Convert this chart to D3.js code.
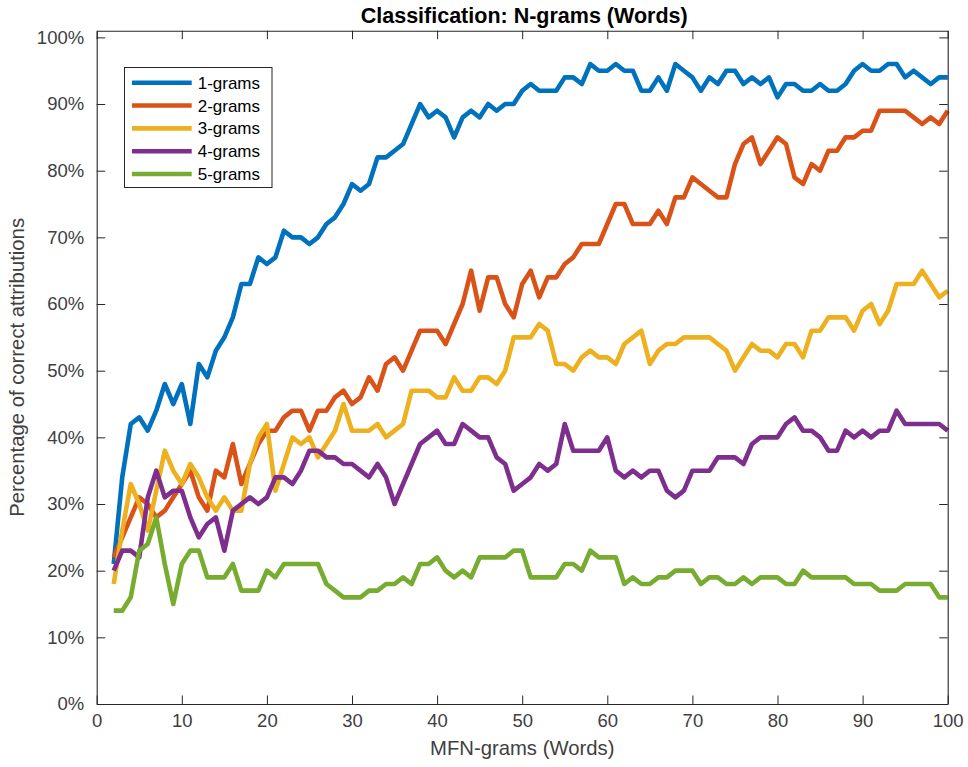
<!DOCTYPE html>
<html>
<head>
<meta charset="utf-8">
<script src="https://cdn.jsdelivr.net/npm/d3@7/dist/d3.min.js"></script>
<style>
  html, body { margin: 0; padding: 0; background: #fff; }
  svg { display: block; font-family: "Liberation Sans", Arial, Helvetica, sans-serif; }
</style>
</head>
<body>
<svg id="chart" width="968" height="767"></svg>
<script>
// Number of most frequent N-grams used (x axis)
const mfn = [
  2, 3, 4, 5, 6, 7, 8, 9, 10, 11,
  12, 13, 14, 15, 16, 17, 18, 19, 20, 21,
  22, 23, 24, 25, 26, 27, 28, 29, 30, 31,
  32, 33, 34, 35, 36, 37, 38, 39, 40, 41,
  42, 43, 44, 45, 46, 47, 48, 49, 50, 51,
  52, 53, 54, 55, 56, 57, 58, 59, 60, 61,
  62, 63, 64, 65, 66, 67, 68, 69, 70, 71,
  72, 73, 74, 75, 76, 77, 78, 79, 80, 81,
  82, 83, 84, 85, 86, 87, 88, 89, 90, 91,
  92, 93, 94, 95, 96, 97, 98, 99, 100
];

// Percentage of correct attributions per N-gram size
const grams1 = [
  21, 34, 42, 43, 41, 44, 48, 45, 48, 42,
  51, 49, 53, 55, 58, 63, 63, 67, 66, 67,
  71, 70, 70, 69, 70, 72, 73, 75, 78, 77,
  78, 82, 82, 83, 84, 87, 90, 88, 89, 88,
  85, 88, 89, 88, 90, 89, 90, 90, 92, 93,
  92, 92, 92, 94, 94, 93, 96, 95, 95, 96,
  95, 95, 92, 92, 94, 92, 96, 95, 94, 92,
  94, 93, 95, 95, 93, 94, 93, 94, 91, 93,
  93, 92, 92, 93, 92, 92, 93, 95, 96, 95,
  95, 96, 96, 94, 95, 94, 93, 94, 94
];
const grams2 = [
  22, 25, 28, 31, 30, 28, 29, 31, 33, 35,
  31, 29, 35, 34, 39, 33, 36, 39, 41, 41,
  43, 44, 44, 41, 44, 44, 46, 47, 45, 46,
  49, 47, 51, 52, 50, 53, 56, 56, 56, 54,
  57, 60, 65, 59, 64, 64, 60, 58, 63, 65,
  61, 64, 64, 66, 67, 69, 69, 69, 72, 75,
  75, 72, 72, 72, 74, 72, 76, 76, 79, 78,
  77, 76, 76, 81, 84, 85, 81, 83, 85, 84,
  79, 78, 81, 80, 83, 83, 85, 85, 86, 86,
  89, 89, 89, 89, 88, 87, 88, 87, 89
];
const grams3 = [
  18, 26, 33, 30, 26, 32, 38, 35, 33, 36,
  34, 31, 29, 31, 29, 29, 36, 40, 42, 32,
  36, 40, 39, 40, 37, 39, 41, 45, 41, 41,
  41, 42, 40, 41, 42, 47, 47, 47, 46, 46,
  49, 47, 47, 49, 49, 48, 50, 55, 55, 55,
  57, 56, 51, 51, 50, 52, 53, 52, 52, 51,
  54, 55, 56, 51, 53, 54, 54, 55, 55, 55,
  55, 54, 53, 50, 52, 54, 53, 53, 52, 54,
  54, 52, 56, 56, 58, 58, 58, 56, 59, 60,
  57, 59, 63, 63, 63, 65, 63, 61, 62
];
const grams4 = [
  20, 23, 23, 22, 31, 35, 31, 32, 32, 28,
  25, 27, 28, 23, 29, 30, 31, 30, 31, 34,
  34, 33, 35, 38, 38, 37, 37, 36, 36, 35,
  34, 36, 34, 30, 33, 36, 39, 40, 41, 39,
  39, 42, 41, 40, 40, 37, 36, 32, 33, 34,
  36, 35, 36, 42, 38, 38, 38, 38, 40, 35,
  34, 35, 34, 35, 35, 32, 31, 32, 35, 35,
  35, 37, 37, 37, 36, 39, 40, 40, 40, 42,
  43, 41, 41, 40, 38, 38, 41, 40, 41, 40,
  41, 41, 44, 42, 42, 42, 42, 42, 41
];
const grams5 = [
  14, 14, 16, 23, 24, 28, 21, 15, 21, 23,
  23, 19, 19, 19, 21, 17, 17, 17, 20, 19,
  21, 21, 21, 21, 21, 18, 17, 16, 16, 16,
  17, 17, 18, 18, 19, 18, 21, 21, 22, 20,
  19, 20, 19, 22, 22, 22, 22, 23, 23, 19,
  19, 19, 19, 21, 21, 20, 23, 22, 22, 22,
  18, 19, 18, 18, 19, 19, 20, 20, 20, 18,
  19, 19, 18, 18, 19, 18, 19, 19, 19, 18,
  18, 20, 19, 19, 19, 19, 19, 18, 18, 18,
  17, 17, 17, 18, 18, 18, 18, 16, 16
];

const seriesNames = ["1-grams", "2-grams", "3-grams", "4-grams", "5-grams"];
const seriesColors = ["#0072BD", "#D95319", "#EDB120", "#7E2F8E", "#77AC30"];
const xTicks = [0, 10, 20, 30, 40, 50, 60, 70, 80, 90, 100];
const yTicks = [0, 10, 20, 30, 40, 50, 60, 70, 80, 90, 100];

const chartTitle = "Classification: N-grams (Words)";
const xTitle = "MFN-grams (Words)";
const yTitle = "Percentage of correct attributions";

(function draw() {
  const series = [grams1, grams2, grams3, grams4, grams5].map((vals, i) => ({
    name: seriesNames[i],
    color: seriesColors[i],
    points: vals.map((v, j) => ({ x: mfn[j], y: v }))
  }));

  const svg = d3.select("#chart");
  const W = 968, H = 767;
  const plotLeft = 96.7, plotRight = 947.7, plotTop = 30.7, plotBottom = 704;

  svg.append("rect").attr("width", W).attr("height", H).attr("fill", "#fff");

  const x = d3.scaleLinear().domain([0, 100]).range([plotLeft, plotRight]);
  const y = d3.scaleLinear().domain([0, 101]).range([plotBottom, plotTop]);

  const axisColor = "#262626";
  const labelColor = "#404040";
  const tickFont = 18.5;

  // Series lines, later series drawn on top
  const line = d3.line().x(d => x(d.x)).y(d => y(d.y));
  const plot = svg.append("g");
  series.forEach(s => {
    plot.append("path")
      .datum(s.points)
      .attr("fill", "none")
      .attr("stroke", s.color)
      .attr("stroke-width", 4.6)
      .attr("stroke-linejoin", "round")
      .attr("stroke-linecap", "butt")
      .attr("d", line);
  });

  // Axes: ticks point inward on all four sides
  function styleAxis(g, showLabels) {
    g.select(".domain").attr("stroke", axisColor).attr("stroke-width", 1.1);
    g.selectAll(".tick line").attr("stroke", axisColor).attr("stroke-width", 1);
    g.selectAll(".tick text")
      .attr("fill", labelColor)
      .style("font-size", tickFont + "px")
      .style("font-family", '"Liberation Sans", Arial, Helvetica, sans-serif');
    if (!showLabels) g.selectAll(".tick text").remove();
  }

  svg.append("g")
    .attr("transform", `translate(0,${plotBottom})`)
    .call(d3.axisBottom(x).tickValues(xTicks).tickSizeInner(-8.5).tickSizeOuter(0).tickPadding(10))
    .call(g => styleAxis(g, true));

  svg.append("g")
    .attr("transform", `translate(0,${plotTop})`)
    .call(d3.axisTop(x).tickValues(xTicks).tickSizeInner(-8.5).tickSizeOuter(0))
    .call(g => styleAxis(g, false));

  svg.append("g")
    .attr("transform", `translate(${plotLeft},0)`)
    .call(d3.axisLeft(y).tickValues(yTicks).tickFormat(d => d + "%").tickSizeInner(-8.5).tickSizeOuter(0).tickPadding(12.5))
    .call(g => styleAxis(g, true));

  svg.append("g")
    .attr("transform", `translate(${plotRight},0)`)
    .call(d3.axisRight(y).tickValues(yTicks).tickSizeInner(-8.5).tickSizeOuter(0))
    .call(g => styleAxis(g, false));

  // Titles
  svg.append("text")
    .attr("x", (plotLeft + plotRight) / 2 + 2)
    .attr("y", 22.7)
    .attr("text-anchor", "middle")
    .attr("fill", "#000")
    .style("font-size", "21.5px")
    .style("font-weight", "bold")
    .text(chartTitle);

  svg.append("text")
    .attr("x", (plotLeft + plotRight) / 2)
    .attr("y", 755)
    .attr("text-anchor", "middle")
    .attr("fill", labelColor)
    .style("font-size", "20.3px")
    .text(xTitle);

  svg.append("text")
    .attr("transform", `translate(24,${(plotTop + plotBottom) / 2}) rotate(-90)`)
    .attr("text-anchor", "middle")
    .attr("fill", labelColor)
    .style("font-size", "20.3px")
    .text(yTitle);

  // Legend
  const legend = svg.append("g");
  legend.append("rect")
    .attr("x", 124.5).attr("y", 67.5)
    .attr("width", 147.5).attr("height", 120)
    .attr("fill", "#fff")
    .attr("stroke", axisColor)
    .attr("stroke-width", 1);

  const legendRow = d3.scaleLinear().domain([0, 4]).range([82.7, 174]);
  series.forEach((s, i) => {
    const cy = legendRow(i);
    legend.append("line")
      .attr("x1", 132).attr("x2", 191.7)
      .attr("y1", cy).attr("y2", cy)
      .attr("stroke", s.color)
      .attr("stroke-width", 4.6);
    legend.append("text")
      .attr("x", 197.7).attr("y", cy)
      .attr("dy", "0.36em")
      .attr("fill", "#000")
      .style("font-size", "17px")
      .text(s.name);
  });
})();
</script>
</body>
</html>
